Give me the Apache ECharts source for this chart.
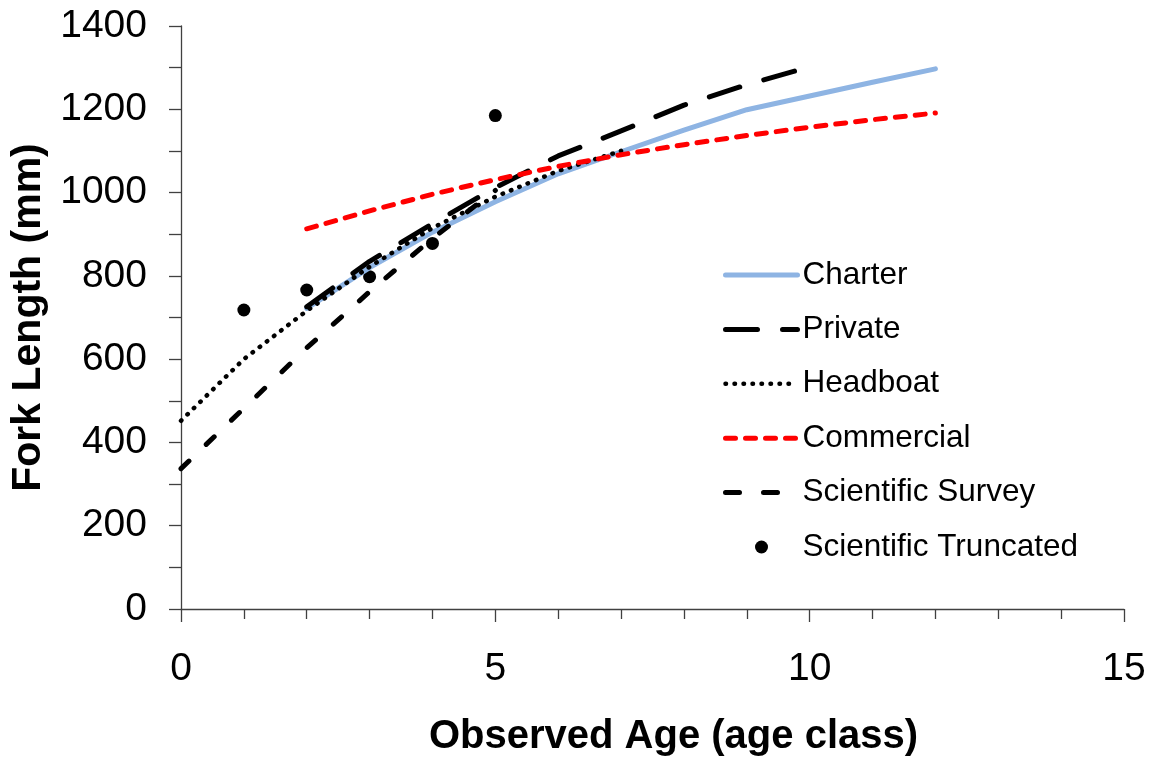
<!DOCTYPE html>
<html>
<head>
<meta charset="utf-8">
<title>Fork Length by Observed Age</title>
<script src="https://cdn.jsdelivr.net/npm/echarts@6/dist/echarts.min.js"></script>
<style>
  html, body { margin: 0; padding: 0; background: #ffffff; }
  #chart { width: 1154px; height: 757px; }
</style>
</head>
<body>
<div id="chart"></div>
<script>
// Growth curves (fork length, mm) by observed age class for each sector
const charterAges = [2, 3, 4, 5, 6, 7, 8, 9, 10, 11, 12];
const charterFL   = [722, 820, 905, 978, 1045, 1098, 1150, 1199, 1232, 1265, 1297];

const privateAges = [2, 3, 4, 5, 6, 7, 8, 9, 10];
const privateFL   = [726, 835, 925, 1012, 1088, 1148, 1210, 1259, 1302];

const headboatAges = [0, 1, 2, 3, 4, 5, 6, 7];
const headboatFL   = [452, 600, 716, 822, 915, 990, 1052, 1100];

const commercialAges = [2, 3, 4, 5, 6, 7, 8, 9, 10, 11, 12];
const commercialFL   = [913, 956, 996, 1031, 1063, 1091, 1115, 1137, 1157, 1175, 1191];

const surveyAges = [0, 1, 2, 3, 4, 5];
const surveyFL   = [337, 482, 627, 762, 890, 1005];

// Mean observed lengths of the truncated scientific sample
const truncatedAges = [1, 2, 3, 4, 5];
const truncatedFL   = [718, 766, 798, 878, 1185];

const FONT = "'Liberation Sans', Arial, sans-serif";
const AXIS_COLOR = '#404040';

function pairs(xs, ys) {
  return xs.map((x, i) => [x, ys[i]]);
}

// line styles shared by each curve and its legend entry
const styles = {
  'Charter':           { color: '#8EB4E3', width: 5,   type: 'solid' },
  'Private':           { color: '#000000', width: 5,   type: [32, 25] },
  'Headboat':          { color: '#000000', width: 4.5, type: [0.5, 8.5] },
  'Commercial':        { color: '#FF0000', width: 5,   type: [10, 10] },
  'Scientific Survey': { color: '#000000', width: 5,   type: [11, 24], legendType: [14, 24] }
};

function lineSeries(name, xs, ys) {
  const s = styles[name];
  return {
    name: name,
    type: 'line',
    data: pairs(xs, ys),
    symbol: 'none',
    showSymbol: false,
    smooth: false,
    animation: false,
    lineStyle: { color: s.color, width: s.width, type: s.type, cap: 'round', join: 'round' },
    itemStyle: { color: s.color }
  };
}

function lineLegendItem(name) {
  const s = styles[name];
  return {
    name: name,
    itemStyle: { opacity: 0 },
    lineStyle: { color: s.color, width: s.width, type: s.legendType || s.type, cap: 'round' }
  };
}

const chart = echarts.init(document.getElementById('chart'), null, { renderer: 'canvas' });

chart.setOption({
  animation: false,
  backgroundColor: '#ffffff',
  grid: { left: 181, right: 30, top: 26, bottom: 148, containLabel: false, outerBoundsMode: 'none' },
  legend: {
    orient: 'vertical',
    left: 723,
    top: 259,
    padding: 0,
    itemWidth: 72,
    itemHeight: 13,
    itemGap: 22.4,
    data: [
      lineLegendItem('Charter'),
      lineLegendItem('Private'),
      lineLegendItem('Headboat'),
      lineLegendItem('Commercial'),
      lineLegendItem('Scientific Survey'),
      { name: 'Scientific Truncated', itemStyle: { color: '#000000', opacity: 1 } }
    ],
    textStyle: { fontFamily: FONT, fontSize: 31.5, lineHeight: 31, color: '#000000' }
  },
  xAxis: {
    type: 'value',
    min: 0,
    max: 15,
    interval: 5,
    name: 'Observed Age (age class)',
    nameLocation: 'middle',
    nameGap: 108,
    nameTextStyle: { fontFamily: FONT, fontSize: 40, fontWeight: 'bold', color: '#000000', padding: [0, 0, 0, 42] },
    axisLine: { show: true, onZero: false, lineStyle: { color: AXIS_COLOR, width: 1.3 } },
    axisTick: { show: true, inside: false, length: 13, lineStyle: { color: AXIS_COLOR, width: 1.3 } },
    minorTick: { show: true, splitNumber: 5, length: 10, lineStyle: { color: AXIS_COLOR, width: 1.3 } },
    axisLabel: { fontFamily: FONT, fontSize: 39, color: '#000000', margin: 41, formatter: v => String(v) },
    splitLine: { show: false },
    minorSplitLine: { show: false }
  },
  yAxis: {
    type: 'value',
    min: 0,
    max: 1400,
    interval: 200,
    name: 'Fork Length (mm)',
    nameLocation: 'middle',
    nameGap: 105,
    nameTextStyle: { fontFamily: FONT, fontSize: 41, fontWeight: 'bold', color: '#000000' },
    axisLine: { show: true, lineStyle: { color: AXIS_COLOR, width: 1.3 } },
    axisTick: { show: true, inside: false, length: 12, lineStyle: { color: AXIS_COLOR, width: 1.3 } },
    minorTick: { show: true, splitNumber: 2, length: 12, lineStyle: { color: AXIS_COLOR, width: 1.3 } },
    axisLabel: { fontFamily: FONT, fontSize: 39, color: '#000000', margin: 34, formatter: v => String(v) },
    splitLine: { show: false },
    minorSplitLine: { show: false }
  },
  series: [
    lineSeries('Charter', charterAges, charterFL),
    lineSeries('Private', privateAges, privateFL),
    lineSeries('Headboat', headboatAges, headboatFL),
    lineSeries('Commercial', commercialAges, commercialFL),
    lineSeries('Scientific Survey', surveyAges, surveyFL),
    {
      name: 'Scientific Truncated',
      type: 'scatter',
      data: pairs(truncatedAges, truncatedFL),
      symbol: 'circle',
      symbolSize: 13,
      animation: false,
      itemStyle: { color: '#000000', opacity: 1 }
    }
  ]
});
</script>
</body>
</html>
